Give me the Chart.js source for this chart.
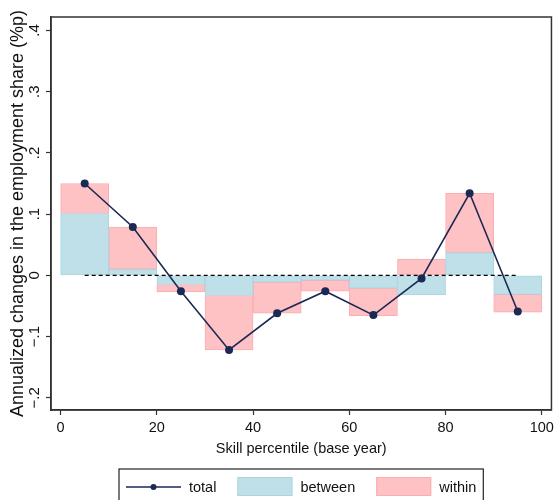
<!DOCTYPE html>
<html>
<head>
<meta charset="utf-8">
<script src="https://cdn.jsdelivr.net/npm/chart.js@4.4.1/dist/chart.umd.min.js"></script>
<style>
  body { margin: 0; background: #fff; }
  #wrap { width: 558px; height: 500px; }
</style>
</head>
<body>
<div id="wrap"><canvas id="chart" width="558" height="500"></canvas></div>
<script>
// decile midpoints (skill percentile)
const midpoints = [5, 15, 25, 35, 45, 55, 65, 75, 85, 95];
const totalChange = [0.150, 0.079, -0.026, -0.122, -0.062, -0.026, -0.065, -0.005, 0.134, -0.059];
const betweenChange = [0.101, 0.010, -0.015, -0.033, -0.011, -0.008, -0.021, -0.032, 0.037, -0.031];
const withinChange = [0.049, 0.069, -0.012, -0.089, -0.051, -0.018, -0.045, 0.026, 0.097, -0.029];
const zeroLineX = [5, 95];
const xTicks = [0, 20, 40, 60, 80, 100];
const yTicks = [-0.2, -0.1, 0, 0.1, 0.2, 0.3, 0.4];

const navy = "#1b2a54";
const blueFill = "#bfe0e8";
const blueEdge = "#a9d5e2";
const pinkFill = "#fec1c4";
const pinkEdge = "#fbadb3";
const fontFamily = "'Liberation Sans', Arial, sans-serif";

function toPoints(xs, ys) {
    return xs.map((x, i) => ({ x: x, y: ys[i] }));
}

function fmtY(v) {
    if (Math.abs(v) < 1e-9) return "0";
    const s = Math.abs(v).toFixed(1).replace(/^0/, "");
    return (v < 0 ? "\u2212" : "") + s;
}

// frame around the plot region
const framePlugin = {
    id: "frame",
    afterDatasetsDraw(chart) {
        const { ctx, chartArea: a } = chart;
        ctx.save();
        ctx.strokeStyle = "#333";
        ctx.lineWidth = 1.5;
        ctx.strokeRect(a.left, a.top, a.right - a.left, a.bottom - a.top);
        ctx.restore();
    }
};

// Stata-like legend box under the plot
const legendPlugin = {
    id: "stataLegend",
    afterDraw(chart) {
        const { ctx, chartArea: a } = chart;
        const items = [
            { label: "total", kind: "line" },
            { label: "between", kind: "box", fill: blueFill, edge: blueEdge },
            { label: "within", kind: "box", fill: pinkFill, edge: pinkEdge }
        ];
        const pad = 7, sample = 55, textGap = 8, itemGap = 21;
        ctx.save();
        ctx.font = "14.5px " + fontFamily;
        let width = pad * 2;
        items.forEach((it, i) => {
            it.w = ctx.measureText(it.label).width;
            width += sample + textGap + it.w + (i ? itemGap : 0);
        });
        const left = Math.round((a.left + a.right) / 2 - width / 2);
        const top = 469;
        const midY = 487;

        ctx.strokeStyle = "#222";
        ctx.lineWidth = 1.2;
        ctx.strokeRect(left, top, width, 60);

        let x = left + pad;
        items.forEach((it) => {
            if (it.kind === "line") {
                ctx.strokeStyle = navy;
                ctx.lineWidth = 1.5;
                ctx.beginPath();
                ctx.moveTo(x, midY);
                ctx.lineTo(x + sample, midY);
                ctx.stroke();
                ctx.fillStyle = navy;
                ctx.beginPath();
                ctx.arc(x + sample / 2, midY, 3, 0, Math.PI * 2);
                ctx.fill();
            } else {
                ctx.fillStyle = it.fill;
                ctx.fillRect(x, midY - 10, sample, 19);
                ctx.strokeStyle = it.edge;
                ctx.lineWidth = 1;
                ctx.strokeRect(x + 0.5, midY - 9.5, sample - 1, 18);
            }
            x += sample + textGap;
            ctx.fillStyle = "#111";
            ctx.textBaseline = "middle";
            ctx.textAlign = "left";
            ctx.fillText(it.label, x, midY + 1);
            x += it.w + itemGap;
        });
        ctx.restore();
    }
};

function drawChart() {
    new Chart(document.getElementById("chart"), {
        type: "bar",
        data: {
            datasets: [
                {
                    type: "line",
                    label: "total",
                    stack: "total",
                    data: toPoints(midpoints, totalChange),
                    borderColor: navy,
                    backgroundColor: navy,
                    borderWidth: 1.6,
                    pointRadius: 4,
                    pointBackgroundColor: navy,
                    pointBorderWidth: 0,
                    tension: 0
                },
                {
                    type: "line",
                    label: "zero",
                    stack: "zero",
                    data: toPoints(zeroLineX, [0, 0]),
                    borderColor: "#000",
                    borderWidth: 1.4,
                    borderDash: [4, 3],
                    pointRadius: 0
                },
                {
                    label: "between",
                    stack: "decomp",
                    data: toPoints(midpoints, betweenChange),
                    backgroundColor: blueFill,
                    borderColor: blueEdge,
                    borderWidth: 1,
                    borderSkipped: false,
                    barPercentage: 1,
                    categoryPercentage: 1
                },
                {
                    label: "within",
                    stack: "decomp",
                    data: toPoints(midpoints, withinChange),
                    backgroundColor: pinkFill,
                    borderColor: pinkEdge,
                    borderWidth: 1,
                    borderSkipped: false,
                    barPercentage: 1,
                    categoryPercentage: 1
                }
            ]
        },
        options: {
            responsive: false,
            animation: false,
            layout: { padding: { top: 17, right: 4, bottom: 32, left: 0 } },
            plugins: {
                legend: { display: false },
                tooltip: { enabled: false }
            },
            scales: {
                x: {
                    type: "linear",
                    min: -2,
                    max: 102,
                    offset: false,
                    stacked: true,
                    afterBuildTicks: s => { s.ticks = xTicks.map(v => ({ value: v })); },
                    afterFit: s => { s.height = 58; },
                    grid: {
                        offset: false,
                        drawOnChartArea: false,
                        drawTicks: true,
                        tickLength: 5,
                        tickColor: "#333",
                        tickWidth: 1.2
                    },
                    border: { display: true, color: "#333", width: 1.5 },
                    ticks: {
                        color: "#111",
                        padding: 4,
                        maxRotation: 0,
                        autoSkip: false,
                        font: { family: fontFamily, size: 14.5 }
                    },
                    title: {
                        display: true,
                        text: "Skill percentile (base year)",
                        color: "#111",
                        padding: { top: 0, bottom: 10 },
                        font: { family: fontFamily, size: 14.5 }
                    }
                },
                y: {
                    min: -0.22,
                    max: 0.422,
                    stacked: true,
                    afterBuildTicks: s => { s.ticks = yTicks.map(v => ({ value: v })); },
                    afterFit: s => { s.width = 51; },
                    grid: {
                        drawOnChartArea: false,
                        drawTicks: true,
                        tickLength: 5,
                        tickColor: "#333",
                        tickWidth: 1.2
                    },
                    border: { display: true, color: "#333", width: 1.5 },
                    ticks: {
                        color: "#111",
                        padding: 1,
                        minRotation: 90,
                        maxRotation: 90,
                        crossAlign: "center",
                        autoSkip: false,
                        font: { family: fontFamily, size: 15 },
                        callback: v => fmtY(v)
                    },
                    title: {
                        display: true,
                        text: "Annualized changes in the employment share (%p)",
                        color: "#111",
                        padding: { top: 7, bottom: 0 },
                        font: { family: fontFamily, size: 18 }
                    }
                }
            }
        },
        plugins: [framePlugin, legendPlugin]
    });
}

document.addEventListener("DOMContentLoaded", drawChart);
</script>
</body>
</html>
